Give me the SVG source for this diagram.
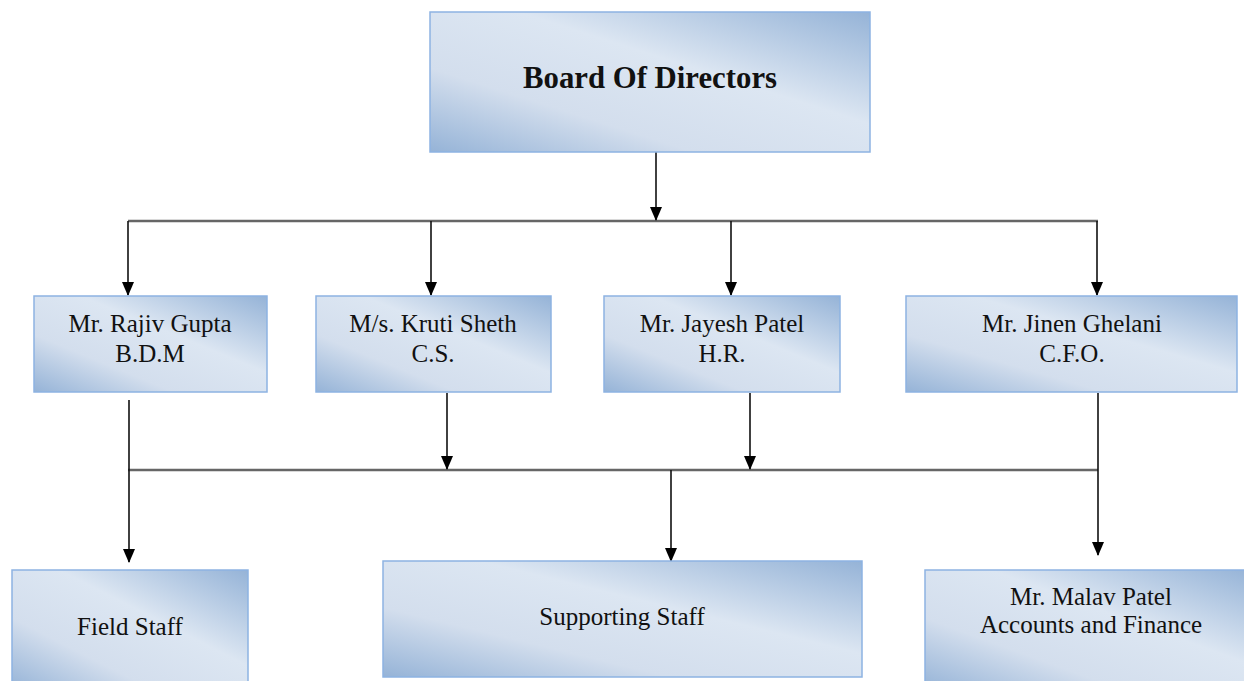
<svg xmlns="http://www.w3.org/2000/svg" width="1244" height="681" viewBox="0 0 1244 681">
<style>
.box{stroke:#8db3e2;stroke-width:1.5;fill:url(#g)}
.t{font-family:"Liberation Serif","Times New Roman",serif;fill:#111;text-anchor:middle}
.m{font-size:25px}
.b{font-size:32px;font-weight:bold}
.ln{stroke:#111;stroke-width:1.6;fill:none}
.hz{stroke:#666;stroke-width:2.5;fill:none}
</style>
<defs>
<linearGradient id="g" x1="0" y1="1" x2="1" y2="0">
<stop offset="0" stop-color="#95b3d7"/>
<stop offset="0.3" stop-color="#d3deed"/>
<stop offset="0.6" stop-color="#dce6f2"/>
<stop offset="1" stop-color="#95b3d7"/>
</linearGradient>
<marker id="d" markerWidth="14" markerHeight="12" refX="13" refY="6" orient="auto" markerUnits="userSpaceOnUse" viewBox="0 0 14 12">
<path d="M0,0 L14,6 L0,12 Z" fill="#000"/>
</marker>
</defs>
<g id="connectors">
<path class="hz" d="M128,221 H1098"/>
<path class="hz" d="M128,470 H1098"/>
<path class="ln" d="M656,152 V220" marker-end="url(#d)"/>
<path class="ln" d="M128,221 V295" marker-end="url(#d)"/>
<path class="ln" d="M431,221 V295" marker-end="url(#d)"/>
<path class="ln" d="M731,221 V295" marker-end="url(#d)"/>
<path class="ln" d="M1097,221 V295" marker-end="url(#d)"/>
<path class="ln" d="M447,393 V469" marker-end="url(#d)"/>
<path class="ln" d="M750,393 V469" marker-end="url(#d)"/>
<path class="ln" d="M129,400 V562" marker-end="url(#d)"/>
<path class="ln" d="M671,470 V561" marker-end="url(#d)"/>
<path class="ln" d="M1098,393 V555" marker-end="url(#d)"/>
</g>
<g id="board">
<rect class="box" x="430" y="12" width="440" height="140"/>
<text class="t b" x="650" y="88" textLength="254" lengthAdjust="spacingAndGlyphs">Board Of Directors</text>
</g>
<g id="rajiv">
<rect class="box" x="34" y="296" width="233" height="96"/>
<text class="t m" x="150" y="332">Mr. Rajiv Gupta</text>
<text class="t m" x="150" y="362">B.D.M</text>
</g>
<g id="kruti">
<rect class="box" x="316" y="296" width="235" height="96"/>
<text class="t m" x="433" y="332">M/s. Kruti Sheth</text>
<text class="t m" x="433" y="362">C.S.</text>
</g>
<g id="jayesh">
<rect class="box" x="604" y="296" width="236" height="96"/>
<text class="t m" x="722" y="332">Mr. Jayesh Patel</text>
<text class="t m" x="722" y="362">H.R.</text>
</g>
<g id="jinen">
<rect class="box" x="906" y="296" width="331" height="96"/>
<text class="t m" x="1072" y="332">Mr. Jinen Ghelani</text>
<text class="t m" x="1072" y="362">C.F.O.</text>
</g>
<g id="field">
<rect class="box" x="12" y="570" width="236" height="120"/>
<text class="t m" x="130" y="635">Field Staff</text>
</g>
<g id="supporting">
<rect class="box" x="383" y="561" width="479" height="116"/>
<text class="t m" x="622" y="625">Supporting Staff</text>
</g>
<g id="malav">
<rect class="box" x="925" y="570" width="330" height="120"/>
<text class="t m" x="1091" y="605">Mr. Malav Patel</text>
<text class="t m" x="1091" y="633">Accounts and Finance</text>
</g>
</svg>
